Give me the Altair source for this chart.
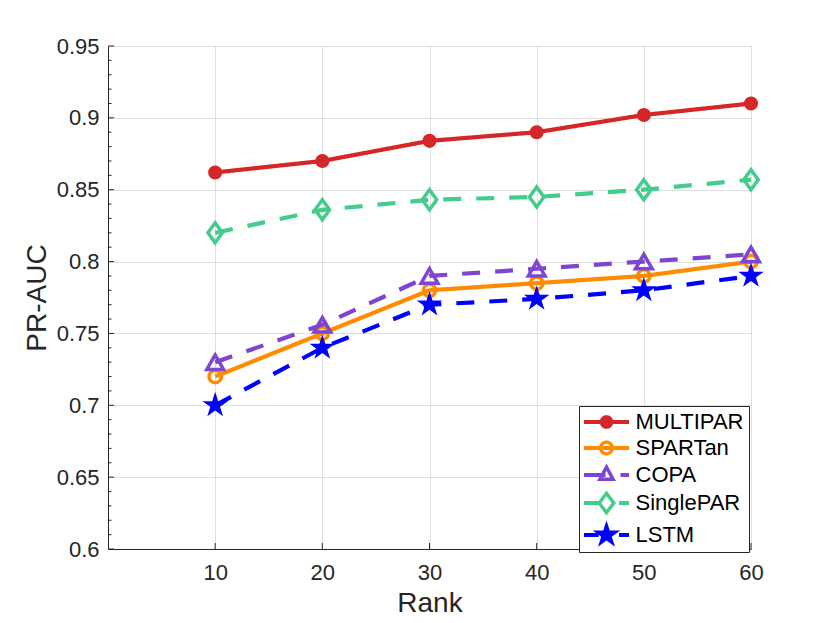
import math
import altair as alt
import pandas as pd

# ---------------- data ----------------
ranks = [10, 20, 30, 40, 50, 60]
series_names = ["MULTIPAR", "SPARTan", "COPA", "SinglePAR", "LSTM"]
multipar = [0.862, 0.870, 0.884, 0.890, 0.902, 0.910]
spartan = [0.720, 0.750, 0.780, 0.785, 0.790, 0.800]
copa = [0.730, 0.756, 0.790, 0.795, 0.800, 0.805]
singlepar = [0.820, 0.836, 0.843, 0.845, 0.850, 0.857]
lstm = [0.700, 0.740, 0.770, 0.774, 0.780, 0.790]

x_ticks = [10, 20, 30, 40, 50, 60]
y_ticks = [0.6, 0.65, 0.7, 0.75, 0.8, 0.85, 0.9, 0.95]
y_minor = [0.61, 0.62, 0.63, 0.64, 0.66, 0.67, 0.68, 0.69,
           0.71, 0.72, 0.73, 0.74, 0.76, 0.77, 0.78, 0.79,
           0.81, 0.82, 0.83, 0.84, 0.86, 0.87, 0.88, 0.89,
           0.91, 0.92, 0.93, 0.94]

values = {"MULTIPAR": multipar, "SPARTan": spartan, "COPA": copa,
          "SinglePAR": singlepar, "LSTM": lstm}
rows = []
for name in series_names:
    for r, v in zip(ranks, values[name]):
        rows.append({"rank": r, "value": v, "series": name})
df = pd.DataFrame(rows)

# ---------------- style ----------------
FONT = "Liberation Sans"
AX = "#262626"
GRID = "#dfdfdf"
W, H = 643, 503

colors = {"MULTIPAR": "#d62728", "SPARTan": "#ff8c00", "COPA": "#7d45d1",
          "SinglePAR": "#42cd8c", "LSTM": "#0000ff"}


def pts_str(pts, scale=1.0):
    return "M" + "L".join(f"{x/scale:.4f},{y/scale:.4f}" for x, y in pts) + "Z"


def circle_pts(r, n=36):
    return [(r * math.cos(2 * math.pi * k / n), r * math.sin(2 * math.pi * k / n)) for k in range(n)]


def star_pts(R, ratio=0.382):
    out = []
    for k in range(10):
        a = math.radians(-90 + 36 * k)
        rr = R if k % 2 == 0 else R * ratio
        out.append((rr * math.cos(a), rr * math.sin(a)))
    return out


def scaled(pts, cx, cy, f):
    return [(cx + (x - cx) * f, cy + (y - cy) * f) for x, y in pts]


def rect(x0, x1, t):
    return [(x0, -t), (x1, -t), (x1, t), (x0, t)]


# plot marker shapes (unit coordinates)
star_path = pts_str(star_pts(1.0))
diamond_path = "M0,-1.25L0.9,0L0,1.25L-0.9,0Z"

# legend symbols (pixel design, converted to units of U px)
SYM = 484
U = math.sqrt(SYM) / 2
T = 1.9
leg_multipar = pts_str(rect(-22.5, 22.5, T), U) + pts_str(circle_pts(6.8), U)
leg_spartan = (pts_str(rect(-22.5, 22.5, T), U) + pts_str(circle_pts(7.5), U)
               + pts_str(list(reversed(circle_pts(4.2))), U))
tri = [(0, -11.5), (9.5, 6.0), (-9.5, 6.0)]
leg_copa = (pts_str(rect(-22.5, -1, T), U) + pts_str(rect(14, 22.5, T), U)
            + pts_str(tri, U) + pts_str(list(reversed(scaled(tri, 0, 0.35, 0.38))), U))
dia = [(0, -12.5), (9.5, 0), (0, 12.5), (-9.5, 0)]
leg_single = (pts_str(rect(-22.5, -8, T), U) + pts_str(rect(12.5, 22.5, T), U)
              + pts_str(dia, U) + pts_str(list(reversed(scaled(dia, 0, 0, 0.54))), U))
leg_lstm = (pts_str(rect(-22.5, -8, T), U) + pts_str(rect(12.5, 22.5, T), U)
            + pts_str(star_pts(14.5), U))
legend_shapes = [leg_multipar, leg_spartan, leg_copa, leg_single, leg_lstm]

styles = {
    "MULTIPAR": dict(dash=[1, 0], shape="circle", filled=True, size=200, sw=1),
    "SPARTan": dict(dash=[1, 0], shape="circle", filled=False, size=150, sw=3.5),
    "COPA": dict(dash=[18, 15], shape="triangle-up", filled=False, size=280, sw=3.5),
    "SinglePAR": dict(dash=[18, 15], shape=diamond_path, filled=False, size=256, sw=3.5),
    "LSTM": dict(dash=[18, 15], shape=star_path, filled=True, size=720, sw=1),
}

xscale = alt.Scale(domain=[0, 60], nice=False, zero=False)
yscale = alt.Scale(domain=[0.6, 0.95], nice=False, zero=False)

xaxis = alt.Axis(values=x_ticks, format="d", title="Rank", grid=True, gridColor=GRID,
                 gridWidth=1, ticks=False, domainColor=AX, domainWidth=1,
                 labelFont=FONT, labelFontSize=22, labelColor=AX, labelPadding=13,
                 labelFlush=False, titleFont=FONT, titleFontSize=28,
                 titleFontWeight="normal", titleColor=AX, titlePadding=6)
yaxis = alt.Axis(values=y_ticks, format="~g", title="PR-AUC", grid=True, gridColor=GRID,
                 gridWidth=1, ticks=False, domainColor=AX, domainWidth=1,
                 labelFont=FONT, labelFontSize=22, labelColor=AX, labelPadding=9,
                 labelFlush=False, titleFont=FONT, titleFontSize=28,
                 titleFontWeight="normal", titleColor=AX, titlePadding=5)

X = alt.X("rank:Q", scale=xscale, axis=xaxis)
Y = alt.Y("value:Q", scale=yscale, axis=yaxis)

layers = []

# inward tick marks
xt = pd.DataFrame({"rank": x_ticks})
layers.append(alt.Chart(xt).mark_rule(color=AX, strokeWidth=1).encode(
    x=X, y=alt.value(H), y2=alt.value(H - 6)))
yt = pd.DataFrame({"value": y_ticks})
layers.append(alt.Chart(yt).mark_rule(color=AX, strokeWidth=1).encode(
    y=Y, x=alt.value(0), x2=alt.value(6)))
ym = pd.DataFrame({"value": y_minor})
layers.append(alt.Chart(ym).mark_rule(color=AX, strokeWidth=1).encode(
    y=Y, x=alt.value(0), x2=alt.value(3.5)))

for name in series_names:
    st = styles[name]
    c = colors[name]
    base = alt.Chart(df).transform_filter(alt.datum.series == name)
    layers.append(base.mark_line(color=c, strokeWidth=4.2, strokeDash=st["dash"]).encode(x=X, y=Y))
    layers.append(base.mark_point(shape=st["shape"], filled=st["filled"], size=st["size"],
                                  color=c, strokeWidth=st["sw"], opacity=1).encode(x=X, y=Y))

leg = alt.Legend(title=None, orient="none", legendX=471, legendY=360, padding=5,
                 fillColor="white", strokeColor=AX, labelFont=FONT, labelFontSize=22,
                 labelColor="black", labelOffset=18, symbolOffset=11.5, symbolSize=SYM,
                 symbolStrokeWidth=0, symbolOpacity=1, rowPadding=4, labelLimit=300)

layers.append(alt.Chart(df).mark_point(filled=True, opacity=0).encode(
    x=X, y=Y,
    color=alt.Color("series:N", scale=alt.Scale(domain=series_names,
                                                range=[colors[n] for n in series_names]),
                    legend=leg),
    shape=alt.Shape("series:N", scale=alt.Scale(domain=series_names, range=legend_shapes),
                    legend=leg),
))

chart = alt.layer(*layers).properties(
    width=W, height=H,
    autosize=alt.AutoSizeParams(type="none"),
    padding={"left": 100, "top": 38, "right": 71, "bottom": 66},
).configure_view(strokeWidth=0).configure(background="white")

chart.save("out.html", embed_options={"renderer": "svg", "actions": False})
